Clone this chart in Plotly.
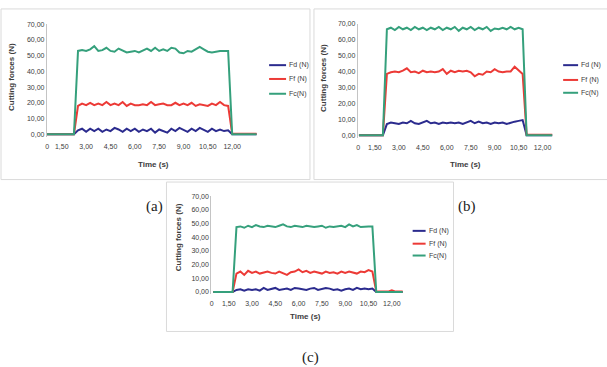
import plotly.graph_objects as go

W, H = 607, 367

# ---------------- data ----------------
TIME = [0.5, 0.75, 1.0, 1.25, 1.5, 1.75, 2.0, 2.25, 2.5, 2.75,
        3.0, 3.25, 3.5, 3.75, 4.0, 4.25, 4.5, 4.75, 5.0, 5.25,
        5.5, 5.75, 6.0, 6.25, 6.5, 6.75, 7.0, 7.25, 7.5, 7.75,
        8.0, 8.25, 8.5, 8.75, 9.0, 9.25, 9.5, 9.75, 10.0, 10.25,
        10.5, 10.75, 11.0, 11.25, 11.5, 11.75, 12.0, 12.25, 12.5, 12.75,
        13.0, 13.25, 13.5]

SERIES_NAMES = ["Fd (N)", "Ff (N)", "Fc(N)"]

# panel (a)
A_FD = [0, 0, 0, 0, 0, 0, 0, 0,
        2.5, 3.5, 1.5, 3.5, 2.0, 3.5, 1.5, 3.0, 2.0, 4.0,
        3.0, 1.5, 3.5, 2.0, 3.5, 1.5, 3.0, 2.0, 3.5, 1.0,
        3.0, 2.0, 1.0, 3.5, 2.0, 4.0, 2.5, 1.5, 3.5, 2.0,
        4.0, 3.0, 1.5, 3.5, 2.0, 3.0, 2.0, 2.5,
        0, 0, 0, 0, 0, 0, 0]
A_FF = [0, 0, 0, 0, 0, 0, 0, 0,
        18, 19.5, 18.5, 20, 18.5, 19.5, 18.5, 20.5, 18.5, 19.5,
        18.5, 20.5, 18, 19.5, 18.5, 18.5, 19, 18.5, 20.5, 18.5,
        19, 19.5, 18.5, 18.5, 20, 18.5, 19.5, 18.5, 20, 18,
        19, 18.5, 18, 19.5, 18.5, 20.5, 18.5, 18,
        0.3, 0.3, 0.3, 0.3, 0.3, 0.3, 0.3]
A_FC = [0, 0, 0, 0, 0, 0, 0, 0,
        53, 53.5, 53, 54, 56, 53, 53.5, 55, 53, 52.5,
        54.5, 53, 52, 52.5, 53, 52, 53.5, 54.5, 53, 55,
        53, 54, 53, 55, 54.5, 52, 51.5, 53, 52.5, 54,
        55.5, 54, 52.5, 52, 52.5, 53, 53, 53,
        0, 0, 0, 0, 0, 0, 0]

# panel (b)
B_FD = [0, 0, 0, 0, 0, 0, 0,
        7, 8, 7.5, 7, 8, 7.5, 9, 7.5, 7, 8,
        9, 7.5, 8, 7, 8, 7.5, 8, 7.5, 8, 7,
        8, 9, 7.5, 8.5, 7.5, 8, 7, 8, 7.5, 8,
        7, 8, 8.5, 9, 9.5,
        0, 0, 0, 0, 0, 0, 0, 0, 0, 0, 0]
B_FF = [0, 0, 0, 0, 0, 0, 0,
        38.5, 39.5, 40, 39.5, 40.5, 42, 39.5, 40, 39, 40.5,
        39.5, 40, 39.5, 40, 41.5, 38.5, 40.5, 39.5, 40.5, 40,
        40.5, 39.5, 37, 38.5, 38, 40, 39.5, 41.5, 40, 39.5,
        40, 40, 43, 40.5, 38.5,
        0.3, 0.3, 0.3, 0.3, 0.3, 0.3, 0.3, 0.3, 0.3, 0.3, 0.3]
B_FC = [0, 0, 0, 0, 0, 0, 0,
        66.5, 67.5, 66, 68, 66.5, 67.5, 66, 68, 66.5, 67.5,
        66, 67.5, 66.5, 68, 66, 67.5, 66.5, 68, 65.5, 67.5,
        66.5, 68, 66, 67.5, 66.5, 68, 65.5, 67, 66.5, 67.5,
        66.5, 68, 66.5, 67.5, 66.5,
        0, 0, 0, 0, 0, 0, 0, 0, 0, 0, 0]

# panel (c)
C_FD = [0, 0, 0, 0, 0, 0,
        1.5, 2, 1, 2, 1.5, 2, 1, 3, 1.5, 2.5,
        3, 1.5, 2, 2.5, 1.5, 3, 2.5, 2, 1.5, 2.5,
        3, 1.5, 2, 3, 2.5, 1.5, 2, 1, 2, 2.5,
        1.5, 3, 2, 2.5, 2, 2.5,
        0, 0, 0, 0, 0, 0, 0, 0, 0, 0, 0]
C_FF = [0, 0, 0, 0, 0, 0,
        13.5, 15, 12.5, 15.5, 14, 15, 13.5, 14.5, 15, 14,
        13.5, 15, 14, 12.5, 14.5, 15, 16.5, 14.5, 15.5, 14,
        15, 14.5, 13.5, 15, 14, 14.5, 13.5, 15, 14, 15,
        14.5, 13.5, 15, 14.5, 16, 15,
        0.3, 0.3, 0.3, 0.3, 1.2, 0.3, 0.3, 0.3, 0.3, 0.3, 0.3]
C_FC = [0, 0, 0, 0, 0, 0,
        47.5, 48, 47, 48.5, 47.5, 49, 48, 47.5, 48.5, 48,
        47.5, 48.5, 49.5, 48, 47.5, 48.5, 48, 47.5, 48.5, 48,
        47.5, 48, 48.5, 47, 48, 47.5, 48, 48.5, 47.5, 49.5,
        48, 49, 47.5, 48, 48, 48,
        0, 0, 0, 0, 0, 0, 0, 0, 0, 0, 0]

Y_TICKS = [0, 10, 20, 30, 40, 50, 60, 70]
X_TICK_TEXT = ["0", "1,50", "3,00", "4,50", "6,00", "7,50", "9,00", "10,50", "12,00"]
X_TICK_REST = [1.5, 3.0, 4.5, 6.0, 7.5, 9.0, 10.5, 12.0]

PANELS = [
    dict(label="(a)", data=[A_FD, A_FF, A_FC], xr=[0.58, 13.6], zero_tick=0.6),
    dict(label="(b)", data=[B_FD, B_FF, B_FC], xr=[0.43, 12.6], zero_tick=0.45),
    dict(label="(c)", data=[C_FD, C_FF, C_FC], xr=[0.38, 12.7], zero_tick=0.4),
]

for p in PANELS:
    for s in p["data"]:
        assert len(s) == len(TIME), (p["label"], len(s))

# ---------------- style / layout ----------------
COLORS = ["#2b2b8e", "#ec3a36", "#35a07c"]
FONT = "Liberation Sans, Arial, sans-serif"
TXT = "#3c3c3c"


def px(x):
    return x / W


def py(y):
    return 1 - y / H


# pixel boxes: plot area left, right, y of value 0, y of value 70
GEOM = [
    dict(l=45, r=257, y0=132, y70=20.5,
         xt=(152, 163), yt=(10, 74), leg=(268, 285, [62, 76, 91]),
         border=(-1, 5, 309, 178), tag=(153, 205)),
    dict(l=357, r=552, y0=133, y70=20,
         xt=(465, 163), yt=(323, 75), leg=(563, 578, [62, 77, 90]),
         border=(313, 5, 608, 178), tag=(467, 205)),
    dict(l=210, r=402, y0=292, y70=195,
         xt=(305, 317), yt=(177, 236), leg=(412, 425, [230, 243, 255]),
         border=(165, 180.5, 453, 332), tag=(310, 358)),
]

fig = go.Figure()
shapes, annotations = [], []
YMIN = -1.5


def note(x, y, text, size, xanchor="center", angle=0, family=FONT, color=TXT):
    annotations.append(dict(
        x=px(x), y=py(y), xref="paper", yref="paper", text=text,
        showarrow=False, xanchor=xanchor, yanchor="middle", textangle=angle,
        font=dict(family=family, size=size, color=color)))


for i, (p, g) in enumerate(zip(PANELS, GEOM)):
    k = "" if i == 0 else str(i + 1)
    ppu = (g["y0"] - g["y70"]) / 70.0
    ybot = g["y0"] - YMIN * ppu
    for name, col, vals in zip(SERIES_NAMES, COLORS, p["data"]):
        fig.add_trace(go.Scatter(
            x=TIME, y=vals, mode="lines", name=name,
            line=dict(color=col, width=2), showlegend=False,
            xaxis="x" + k, yaxis="y" + k))
    fig.layout["xaxis" + k] = dict(
        domain=[px(g["l"]), px(g["r"])], anchor="y" + k, range=p["xr"],
        showgrid=False, zeroline=False, showline=False, ticks="",
        tickvals=[p["zero_tick"]] + X_TICK_REST, ticktext=X_TICK_TEXT,
        tickfont=dict(family=FONT, size=7, color=TXT), ticklabelstandoff=4)
    fig.layout["yaxis" + k] = dict(
        domain=[py(ybot), py(g["y70"])], anchor="x" + k, range=[YMIN, 70],
        showgrid=False, zeroline=False, showline=True, linecolor="#c4c4c4",
        linewidth=1, ticks="", tickvals=Y_TICKS, tickformat=".2f",
        tickfont=dict(family=FONT, size=7, color=TXT))
    # axis titles
    note(g["xt"][0], g["xt"][1], "<b>Time (s)</b>", 8)
    note(g["yt"][0], g["yt"][1], "<b>Cutting forces (N)</b>", 8, angle=-90)
    # legend
    lx0, lx1, rows = g["leg"]
    for name, col, ry in zip(SERIES_NAMES, COLORS, rows):
        shapes.append(dict(type="line", xref="paper", yref="paper",
                           x0=px(lx0), x1=px(lx1), y0=py(ry), y1=py(ry),
                           line=dict(color=col, width=2)))
        note(lx1 + 1, ry, name, 7, xanchor="left")
    # panel border
    bx0, by0, bx1, by1 = g["border"]
    shapes.append(dict(type="rect", xref="paper", yref="paper",
                       x0=px(bx0), x1=px(bx1), y0=py(by1), y1=py(by0),
                       line=dict(color="#dadada", width=1), layer="below"))
    # panel tag
    note(g["tag"][0], g["tag"][1], p["label"], 15,
         family="Liberation Serif, Times New Roman, serif", color="#222222")

fig.update_layout(
    width=W, height=H, margin=dict(l=0, r=0, t=0, b=0),
    paper_bgcolor="white", plot_bgcolor="white",
    separators=", ", showlegend=False,
    shapes=shapes, annotations=annotations)

fig.write_html("out.html")
